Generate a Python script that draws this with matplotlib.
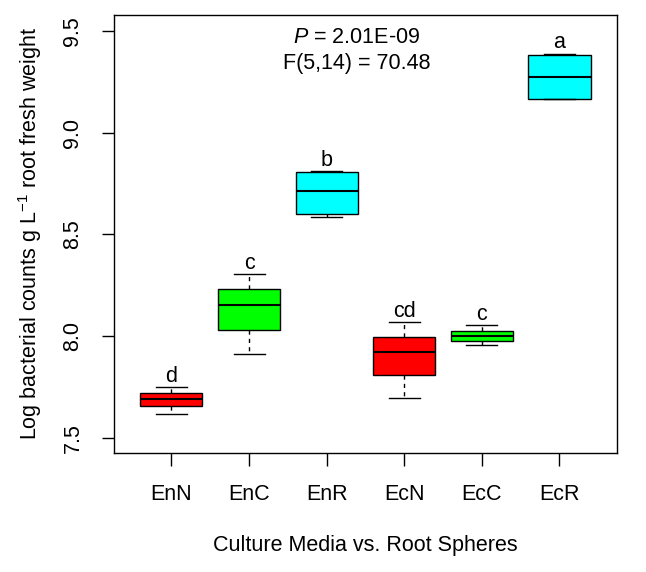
import matplotlib
matplotlib.use("Agg")
import matplotlib.pyplot as plt

plt.rcParams['font.family'] = ['Liberation Sans', 'DejaVu Sans']
plt.rcParams['mathtext.fontset'] = 'custom'
plt.rcParams['mathtext.rm'] = 'Liberation Sans'
plt.rcParams['mathtext.it'] = 'Liberation Sans:italic'

# box statistics
groups = ['EnN', 'EnC', 'EnR', 'EcN', 'EcC', 'EcR']
whislo = [7.618, 7.911, 8.583, 7.697, 7.955, 9.163]
q1 = [7.654, 8.031, 8.602, 7.808, 7.975, 9.167]
med = [7.693, 8.154, 8.712, 7.923, 7.998, 9.274]
q3 = [7.721, 8.229, 8.809, 7.993, 8.024, 9.380]
whishi = [7.751, 8.306, 8.812, 8.068, 8.052, 9.389]
letters = ['d', 'c', 'b', 'cd', 'c', 'a']
colors = ['#ff0000', '#00ff00', '#00ffff', '#ff0000', '#00ff00', '#00ffff']

fs = 15.5

fig = plt.figure(figsize=(6.46, 5.72), dpi=100)
ax = fig.add_axes([0.1765, 0.208, 0.7785, 0.766])

stats = []
for i in range(len(groups)):
    stats.append({'whislo': whislo[i], 'q1': q1[i], 'med': med[i],
                  'q3': q3[i], 'whishi': whishi[i], 'fliers': [], 'label': groups[i]})

bp = ax.bxp(stats, positions=range(1, 7), widths=0.8, patch_artist=True,
            showfliers=False,
            boxprops=dict(edgecolor='black', linewidth=1.0),
            medianprops=dict(color='black', linewidth=1.5),
            whiskerprops=dict(color='black', linewidth=1.0, linestyle=(0, (3, 3))),
            capprops=dict(color='black', linewidth=1.0),
            capwidths=0.4)
for patch, c in zip(bp['boxes'], colors):
    patch.set_facecolor(c)

# significance letters above whiskers
for i in range(len(groups)):
    ax.annotate(letters[i], (i + 1, whishi[i]), xytext=(0, 3.7),
                textcoords='offset points', ha='center', va='baseline', fontsize=fs)

ax.text(3.39, 9.466, r'$\mathit{P}$ = 2.01E-09', ha='center', va='center', fontsize=fs)
ax.text(3.39, 9.341, 'F(5,14) = 70.48', ha='center', va='center', fontsize=fs)

ax.set_xlim(0.26, 6.74)
ax.set_ylim(7.425, 9.579)
ax.set_yticks([7.5, 8.0, 8.5, 9.0, 9.5])
ax.set_yticklabels(['7.5', '8.0', '8.5', '9.0', '9.5'])
ax.set_xticks(range(1, 7))
ax.set_xticklabels(groups)
ax.tick_params(axis='both', length=9, width=1.0, labelsize=fs, pad=13)
ax.tick_params(axis='y', labelrotation=90)
for lab in ax.get_yticklabels():
    lab.set_va('center')

for s in ax.spines.values():
    s.set_linewidth(1.0)

ax.set_xlabel('Culture Media vs. Root Spheres', fontsize=fs)
ax.set_ylabel(r'Log bacterial counts g L$^{-1}$ root fresh weight', fontsize=fs)
ax.xaxis.set_label_coords(0.5, -0.187)
ax.yaxis.set_label_coords(-0.139, 0.5)

fig.savefig('out.png', dpi=100)
